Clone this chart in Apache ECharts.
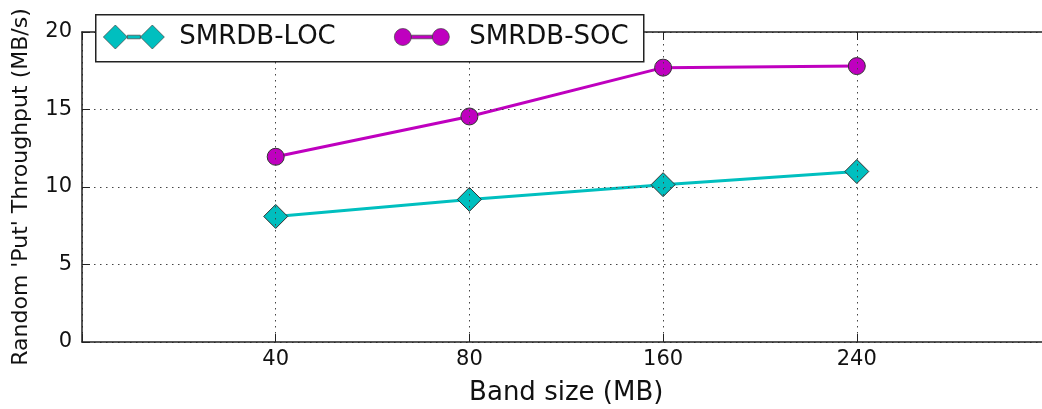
<!DOCTYPE html>
<html>
<head>
<meta charset="utf-8">
<script src="https://cdn.jsdelivr.net/npm/echarts@6/dist/echarts.min.js"></script>
<style>html,body{margin:0;padding:0;background:#fff;}#c{width:1042px;height:409px;}</style>
</head>
<body>
<div id="c"></div>
<script>
const categories = ['40', '80', '160', '240'];
const locValues = [8.1, 9.2, 10.15, 11.0];
const socValues = [11.95, 14.55, 17.7, 17.8];
const yTicks = [0, 5, 10, 15, 20];

const chart = echarts.init(document.getElementById('c'), null, {renderer: 'canvas'});
const FONT = 'DejaVu Sans';
const TXT = '#111';
const toPts = vals => vals.map((v, i) => [i + 1, v]);
const gridLine = {show: true, lineStyle: {color: '#444', width: 1, type: [1.5, 4.5]}};

const option = {
  animation: false,
  backgroundColor: '#fff',
  textStyle: {fontFamily: FONT},
  grid: {left: 82, top: 32, width: 968.5, height: 310, containLabel: false, outerBoundsMode: 'none'},
  xAxis: [{
    type: 'value', min: 0, max: 5, interval: 1, z: 3,
    name: 'Band size (MB)', nameLocation: 'middle', nameGap: 38,
    nameTextStyle: {fontSize: 26, color: TXT, fontFamily: FONT},
    axisLine: {show: true, onZero: false, lineStyle: {color: '#222', width: 1.5}},
    axisTick: {show: true, inside: true, length: 8, lineStyle: {color: '#222', width: 1}},
    axisLabel: {fontSize: 21, color: TXT, fontFamily: FONT, margin: 7,
      formatter: v => (v >= 1 && v <= categories.length) ? categories[v - 1] : ''},
    splitLine: gridLine
  }, {
    type: 'value', min: 0, max: 5, interval: 1, position: 'top', z: 3,
    axisLine: {show: true, onZero: false, lineStyle: {color: '#222', width: 1.5}},
    axisTick: {show: true, inside: true, length: 8, lineStyle: {color: '#222', width: 1}},
    axisLabel: {show: false}, splitLine: {show: false}
  }],
  yAxis: [{
    type: 'value', min: yTicks[0], max: yTicks[yTicks.length - 1], interval: 5, z: 3,
    name: "Random 'Put' Throughput (MB/s)", nameLocation: 'middle', nameGap: 50,
    nameTextStyle: {fontSize: 22, color: TXT, fontFamily: FONT},
    axisLine: {show: true, onZero: false, lineStyle: {color: '#222', width: 1.5}},
    axisTick: {show: true, inside: true, length: 8, lineStyle: {color: '#222', width: 1}},
    axisLabel: {fontSize: 21, color: TXT, fontFamily: FONT, margin: 10},
    splitLine: gridLine
  }],
  legend: [{
    data: [{name: 'SMRDB-LOC', icon: 'path://M0,12L12,0L24,12L12,24Z M24,10.2L37,10.2L37,13.8L24,13.8Z M37,12L49,0L61,12L49,24Z'}],
    left: 103, top: 24, itemWidth: 61, itemHeight: 24, padding: 0, z: 11,
    itemStyle: {borderColor: '#444', borderWidth: 0.7},
    textStyle: {fontSize: 26, color: TXT, fontFamily: FONT, padding: [0, 0, 0, 10]}
  }, {
    data: [{name: 'SMRDB-SOC', icon: 'path://M0,8.5A8.5,8.5 0 1,1 17,8.5A8.5,8.5 0 1,1 0,8.5Z M17,6.7L38,6.7L38,10.3L17,10.3Z M38,8.5A8.5,8.5 0 1,1 55,8.5A8.5,8.5 0 1,1 38,8.5Z'}],
    left: 394, top: 24, itemWidth: 55, itemHeight: 17, padding: 0, z: 11,
    itemStyle: {borderColor: '#444', borderWidth: 0.7},
    textStyle: {fontSize: 26, color: TXT, fontFamily: FONT, padding: [0, 0, 0, 15]}
  }],
  graphic: [{
    type: 'rect', z: 10, left: 95, top: 14,
    shape: {width: 548, height: 47},
    style: {fill: '#fff', stroke: '#222', lineWidth: 1.5}
  }],
  series: [{
    name: 'SMRDB-LOC', type: 'line', data: toPts(locValues), z: 2,
    symbol: 'diamond', symbolSize: 24,
    lineStyle: {color: '#00BFBF', width: 3},
    itemStyle: {color: '#00BFBF', borderColor: '#333', borderWidth: 1}
  }, {
    name: 'SMRDB-SOC', type: 'line', data: toPts(socValues), z: 2,
    symbol: 'circle', symbolSize: 17,
    lineStyle: {color: '#BF00BF', width: 3},
    itemStyle: {color: '#BF00BF', borderColor: '#333', borderWidth: 1}
  }]
};
chart.setOption(option);
</script>
</body>
</html>
